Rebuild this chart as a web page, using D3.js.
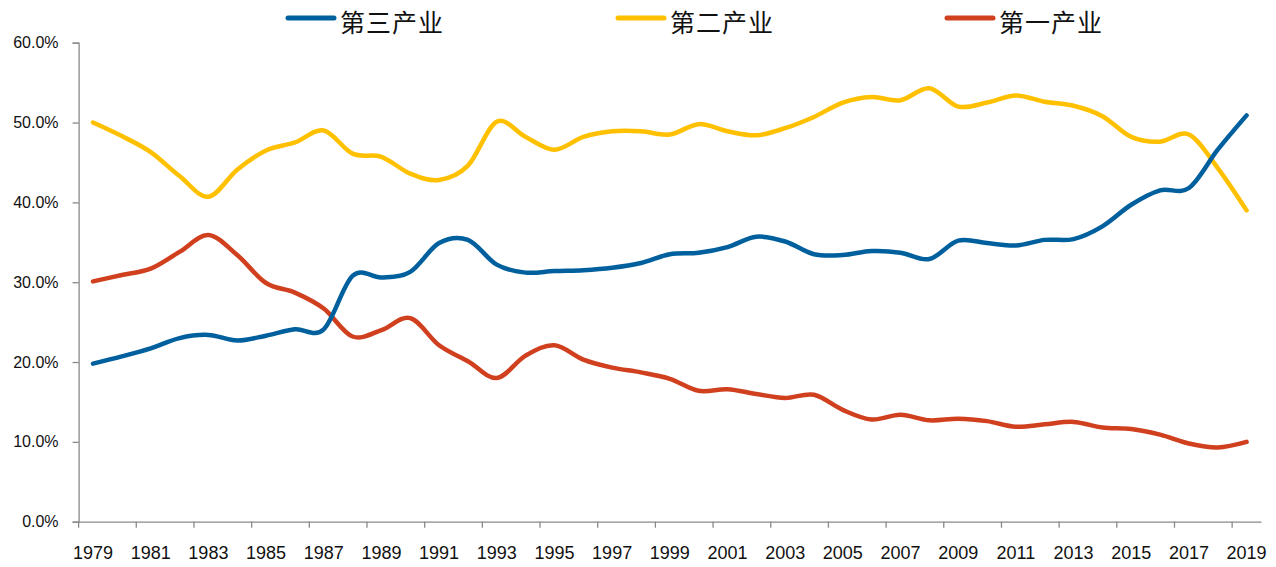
<!DOCTYPE html>
<html>
<head>
<meta charset="utf-8">
<script src="https://cdn.jsdelivr.net/npm/d3@7"></script>
<style>
  body { margin: 0; background: #fff; }
  svg { display: block; }
</style>
</head>
<body>
<div id="app"></div>
<script>
// Data (percent share)
const years = d3.range(1979, 2020);
const tertiary = [19.8, 20.7, 21.7, 23.0, 23.4, 22.7, 23.3, 24.1, 24.1, 30.8, 30.6, 31.3, 34.9, 35.3,
  32.2, 31.2, 31.4, 31.5, 31.8, 32.4, 33.5, 33.7, 34.4, 35.7, 35.1, 33.5, 33.4, 33.9, 33.7, 32.9,
  35.2, 34.9, 34.6, 35.3, 35.4, 37.0, 39.7, 41.5, 41.8, 46.6, 50.9];
const secondary = [50.0, 48.3, 46.3, 43.3, 40.7, 44.1, 46.5, 47.5, 49.0, 46.1, 45.7, 43.6, 42.8, 44.6,
  50.1, 48.2, 46.6, 48.2, 48.9, 48.9, 48.5, 49.8, 48.9, 48.4, 49.3, 50.7, 52.5, 53.2, 52.8, 54.3,
  52.0, 52.5, 53.4, 52.6, 52.1, 50.8, 48.2, 47.6, 48.5, 44.3, 39.0];
const primary = [30.1, 30.9, 31.7, 33.8, 35.9, 33.4, 29.9, 28.7, 26.7, 23.2, 24.0, 25.5, 22.1, 20.1,
  18.0, 20.8, 22.1, 20.3, 19.3, 18.7, 17.9, 16.4, 16.6, 16.0, 15.5, 15.9, 14.0, 12.8, 13.4, 12.7,
  12.9, 12.6, 11.9, 12.2, 12.5, 11.8, 11.6, 10.9, 9.8, 9.3, 10.0];
const seriesNames = ["第三产业", "第二产业", "第一产业"];
const seriesColors = ["#00609E", "#FFC000", "#D0401F"];
const yTicks = [0, 10, 20, 30, 40, 50, 60];
const xLabelYears = years.filter((y, i) => i % 2 === 0);

const width = 1276, height = 567;
const svg = d3.select("#app").append("svg")
  .attr("width", width)
  .attr("height", height);

const x = d3.scaleBand().domain(years).range([78.6, 1261]).paddingInner(0).paddingOuter(0);
const y = d3.scaleLinear().domain([0, 60]).range([521.7, 42.7]);
const axisColor = "#898989";
const numFont = "'Liberation Sans', Arial, sans-serif";

// Y axis
const yAxis = svg.append("g")
  .attr("transform", `translate(${x.range()[0]},0)`)
  .call(d3.axisLeft(y).tickValues(yTicks).tickSize(6).tickPadding(14)
    .tickFormat(d => d.toFixed(1) + "%"));
yAxis.select(".domain").attr("stroke", axisColor).attr("stroke-width", 1.3);
yAxis.selectAll(".tick line").attr("stroke", axisColor).attr("stroke-width", 1.3);
yAxis.selectAll(".tick text").attr("fill", "#111").attr("font-size", 16).attr("font-family", numFont);

// X axis: labels centred on categories, tick marks on category boundaries
const xAxis = svg.append("g")
  .attr("transform", `translate(0,${y(0)})`)
  .call(d3.axisBottom(x).tickValues(xLabelYears).tickSize(0).tickPadding(25));
xAxis.select(".domain").attr("stroke", axisColor).attr("stroke-width", 1.3);
xAxis.selectAll(".tick text").attr("fill", "#111").attr("font-size", 18).attr("font-family", numFont);
xAxis.selectAll(".boundary")
  .data(xLabelYears)
  .join("line")
  .attr("x1", d => x(d)).attr("x2", d => x(d))
  .attr("y1", 0).attr("y2", 6)
  .attr("stroke", axisColor).attr("stroke-width", 1.3);

// Lines
const line = d3.line()
  .x((d, i) => x(years[i]) + x.bandwidth() / 2)
  .y(d => y(d))
  .curve(d3.curveCardinal.tension(0));

const allSeries = [secondary, primary, tertiary];
const colorOf = [seriesColors[1], seriesColors[2], seriesColors[0]];
svg.selectAll(".series")
  .data(allSeries)
  .join("path")
  .attr("fill", "none")
  .attr("stroke", (d, i) => colorOf[i])
  .attr("stroke-width", 4.5)
  .attr("stroke-linecap", "round")
  .attr("stroke-linejoin", "round")
  .attr("d", line);

// Legend
const legendX = [288, 618, 947];
const legend = svg.selectAll(".legend")
  .data(seriesNames)
  .join("g")
  .attr("transform", (d, i) => `translate(${legendX[i]},18)`);
legend.append("line")
  .attr("x1", 0).attr("x2", 46)
  .attr("stroke", (d, i) => seriesColors[i])
  .attr("stroke-width", 5)
  .attr("stroke-linecap", "round");
legend.append("text")
  .attr("x", 52)
  .attr("y", 14)
  .attr("font-size", 25)
  .attr("letter-spacing", 1)
  .attr("font-family", "'Noto Sans CJK SC', sans-serif")
  .attr("fill", "#111")
  .text(d => d);
</script>
</body>
</html>
